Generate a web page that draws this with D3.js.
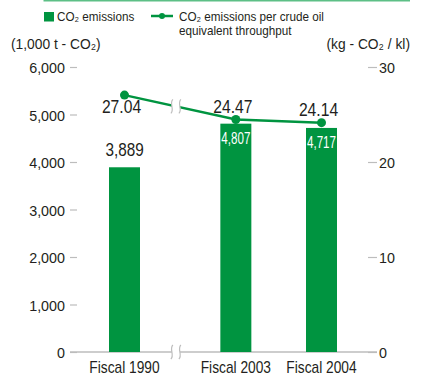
<!DOCTYPE html>
<html><head><meta charset="utf-8">
<script src="https://cdn.jsdelivr.net/npm/d3@7"></script>
<style>
body{margin:0;background:#fff;}
svg{display:block;}
text{font-family:"Liberation Sans",Arial,sans-serif;fill:#231f20;}
</style></head>
<body>
<svg id="c" width="422" height="377"></svg>
<script>
const categories = ["Fiscal 1990", "Fiscal 2003", "Fiscal 2004"];
const slots = [0, 1.3, 2.3];            // horizontal slot of each category (gap after 1990 = axis break)
const emissions = [3889, 4807, 4717];   // 1,000 t-CO2
const emissionLabels = ["3,889", "4,807", "4,717"];
const intensity = [27.04, 24.47, 24.14]; // kg-CO2/kl
const intensityLabels = ["27.04", "24.47", "24.14"];
const leftTicks = [0, 1000, 2000, 3000, 4000, 5000, 6000];
const rightTicks = [0, 10, 20, 30];

const GREEN = "#009440", GRAY = "#bdbdbd", INK = "#231f20";
const svg = d3.select("#c");

const x = d3.scaleLinear().domain([0, 2.3]).range([124.5, 321.5]);
const yL = d3.scaleLinear().domain([0, 6000]).range([352, 67]);
const yR = d3.scaleLinear().domain([0, 30]).range([352, 67]);
const barW = 31;

// condense text horizontally around its own anchor point
function cond(sel, sx) {
  sel.each(function () {
    const t = d3.select(this);
    const tx = +t.attr("x") || 0, ty = +t.attr("y") || 0;
    const prev = t.attr("transform") || "";
    t.attr("x", 0).attr("y", 0).attr("transform", `${prev} translate(${tx},${ty}) scale(${sx},1)`);
  });
}

// top rule
svg.append("line").attr("x1", 43.5).attr("x2", 410).attr("y1", 0.5).attr("y2", 0.5)
  .attr("stroke", "#5dbf86").attr("stroke-width", 2);

// left axis
const ga = svg.append("g").attr("transform", "translate(77,0)")
  .call(d3.axisLeft(yL).tickValues(leftTicks).tickSize(7).tickPadding(5).tickFormat(d3.format(",")));
ga.select(".domain").remove();
ga.selectAll("line").attr("stroke", GRAY).attr("stroke-width", 1.2);
ga.selectAll("text").style("font-size", "15.4px").attr("fill", INK).attr("dy", "0.36em").call(cond, 0.93);

// right axis
const gr = svg.append("g").attr("transform", "translate(368,0)")
  .call(d3.axisRight(yR).tickValues(rightTicks).tickSize(9).tickPadding(2));
gr.select(".domain").remove();
gr.selectAll("line").attr("stroke", GRAY).attr("stroke-width", 1.2);
gr.selectAll("text").style("font-size", "15.4px").attr("fill", INK).attr("dy", "0.36em").call(cond, 0.93);
svg.selectAll("g").attr("font-family", null);

// baseline
svg.append("line").attr("x1", 70).attr("x2", 377).attr("y1", yL(0)).attr("y2", yL(0))
  .attr("stroke", GRAY).attr("stroke-width", 1.5);

// bars
svg.selectAll("rect.bar").data(emissions).join("rect").attr("class", "bar")
  .attr("x", (d, i) => x(slots[i]) - barW / 2).attr("width", barW)
  .attr("y", d => yL(d)).attr("height", d => yL(0) - yL(d)).attr("fill", GREEN);

// bar labels
svg.selectAll("text.bl").data(emissions).join("text").attr("class", "bl")
  .attr("x", (d, i) => x(slots[i])).attr("text-anchor", "middle")
  .attr("y", (d, i) => i === 0 ? yL(d) - 11 : yL(d) + 20)
  .style("font-size", (d, i) => i === 0 ? "18px" : "17px")
  .style("fill", (d, i) => i === 0 ? INK : "#fff")
  .text((d, i) => emissionLabels[i])
  .each(function (d, i) {
    if (i > 0) d3.select(this).attr("textLength", 29 / 0.85).attr("lengthAdjust", "spacingAndGlyphs");
  })
  .call(cond, 0.85);

// line
const pts = intensity.map((d, i) => [x(slots[i]), yR(d)]);
svg.append("path").datum(pts).attr("d", d3.line()).attr("fill", "none")
  .attr("stroke", GREEN).attr("stroke-width", 2.5);
svg.selectAll("circle.pt").data(pts).join("circle").attr("class", "pt")
  .attr("cx", d => d[0]).attr("cy", d => d[1]).attr("r", 4.5).attr("fill", GREEN);

// line labels
svg.selectAll("text.ll").data(intensity).join("text").attr("class", "ll")
  .attr("x", (d, i) => x(slots[i]) - 3).attr("text-anchor", "middle")
  .attr("y", (d, i) => i === 0 ? yR(d) + 18 : yR(d) - 7)
  .style("font-size", "18px")
  .text((d, i) => intensityLabels[i])
  .call(cond, 0.87);

// axis break marks
const bx = x(0.6);
const lineYAt = xx => pts[0][1] + (pts[1][1] - pts[0][1]) * (xx - pts[0][0]) / (pts[1][0] - pts[0][0]);
function breakMark(cy) {
  svg.append("rect").attr("x", bx - 4).attr("y", cy - 5).attr("width", 8).attr("height", 10).attr("fill", "#fff");
  [-4, 4].forEach(o => {
    const cx = bx + o;
    svg.append("path")
      .attr("d", `M${cx + 1},${cy - 7} C${cx - 3},${cy - 3} ${cx + 3},${cy + 3} ${cx - 1},${cy + 7}`)
      .attr("fill", "none").attr("stroke", GRAY).attr("stroke-width", 1.2);
  });
}
breakMark(lineYAt(bx));
breakMark(yL(0));

// x labels
svg.selectAll("text.xl").data(categories).join("text").attr("class", "xl")
  .attr("x", (d, i) => x(slots[i])).attr("y", 373).attr("text-anchor", "middle")
  .style("font-size", "16px").text(d => d)
  .call(cond, 0.86);

// axis titles
svg.append("text").attr("x", 11).attr("y", 49).style("font-size", "15px").text("(1,000 t - CO₂)").call(cond, 0.92);
svg.append("text").attr("x", 410).attr("y", 49).attr("text-anchor", "end").style("font-size", "15px").text("(kg - CO₂ / kl)").call(cond, 0.92);

// legend
svg.append("rect").attr("x", 44).attr("y", 12).attr("width", 10).attr("height", 9.5).attr("fill", GREEN);
svg.append("text").attr("x", 57).attr("y", 21).style("font-size", "13px").text("CO₂ emissions").call(cond, 0.9);
svg.append("line").attr("x1", 151).attr("x2", 173).attr("y1", 16).attr("y2", 16).attr("stroke", GREEN).attr("stroke-width", 2.5);
svg.append("circle").attr("cx", 162).attr("cy", 16).attr("r", 3).attr("fill", GREEN);
svg.append("text").attr("x", 179).attr("y", 21).style("font-size", "13px").text("CO₂ emissions per crude oil").call(cond, 0.9);
svg.append("text").attr("x", 179).attr("y", 34.5).style("font-size", "13px").text("equivalent throughput").call(cond, 0.9);
</script>
</body></html>
